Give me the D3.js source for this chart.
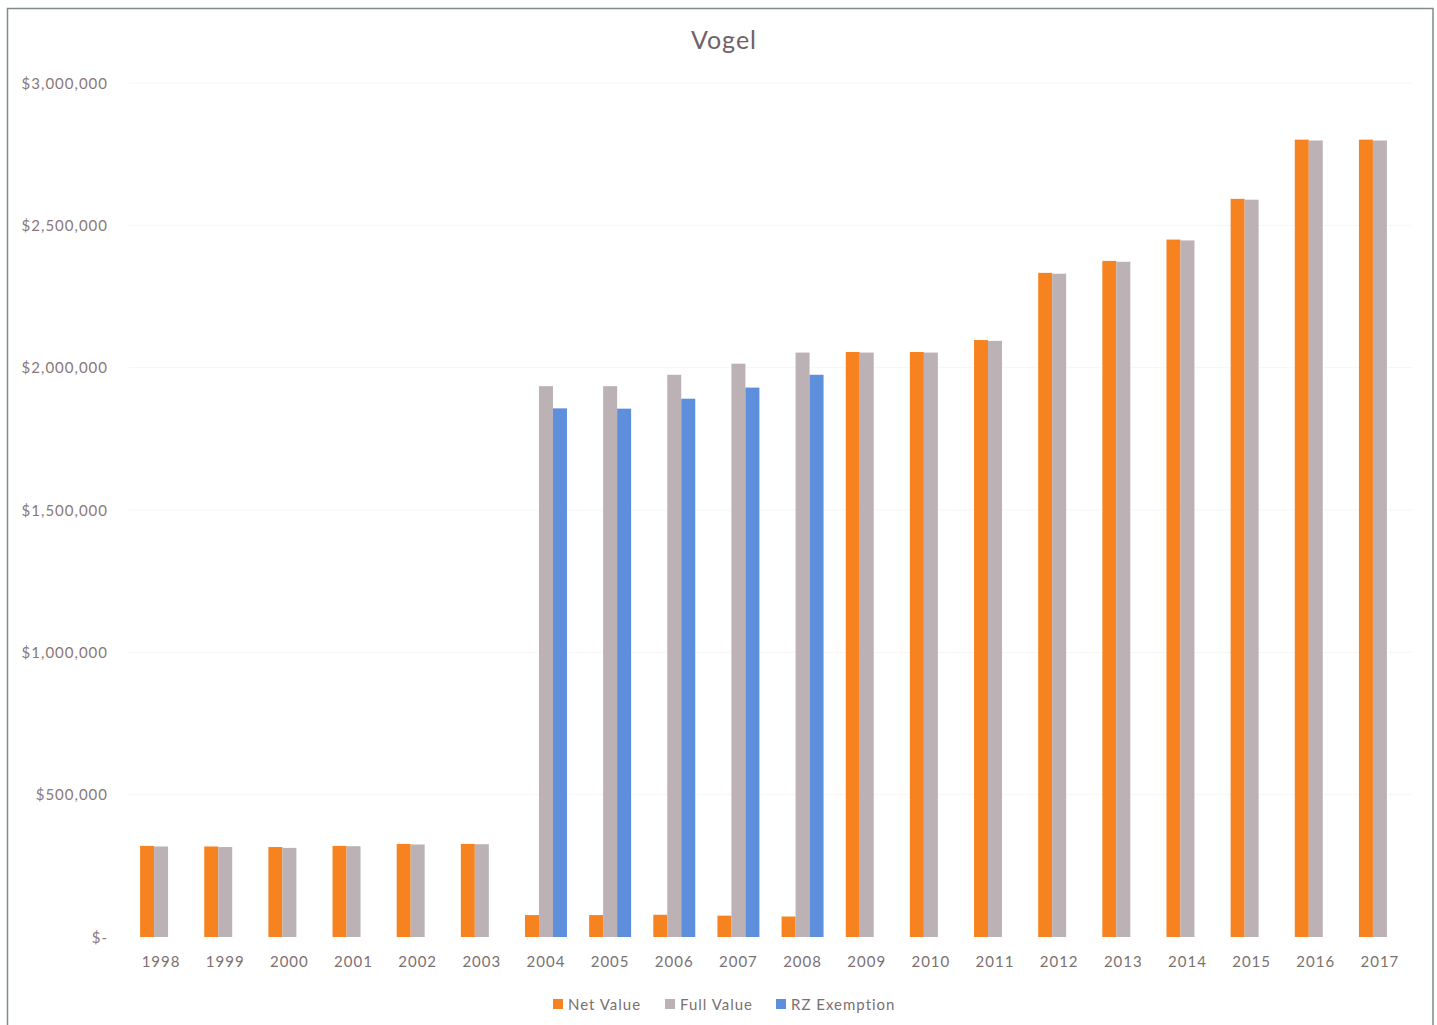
<!DOCTYPE html>
<html>
<head>
<meta charset="utf-8">
<script src="https://cdn.jsdelivr.net/npm/d3@7"></script>
<style>
  html, body { margin: 0; padding: 0; background: #fff; }
  svg { display: block; }
</style>
</head>
<body>
<svg id="chart" width="1437" height="1025"></svg>
<script>
// Assessed values by year
const years = ["1998","1999","2000","2001","2002","2003","2004","2005","2006","2007",
               "2008","2009","2010","2011","2012","2013","2014","2015","2016","2017"];
const netValue = [320000, 318000, 316000, 320000, 327000, 327000, 77000, 77000, 78000, 75000,
                  72000, 2055000, 2055000, 2097000, 2333000, 2375000, 2450000, 2593000, 2801000, 2801000];
const fullValue = [318000, 316000, 313000, 319000, 325000, 326000, 1935000, 1935000, 1975000, 2014000,
                   2053000, 2053000, 2053000, 2094000, 2330000, 2372000, 2447000, 2590000, 2798000, 2798000];
const rzExemption = [null, null, null, null, null, null, 1857000, 1856000, 1891000, 1930000,
                     1975000, null, null, null, null, null, null, null, null, null];
const seriesNames = ["Net Value", "Full Value", "RZ Exemption"];
const yTicks = [0, 500000, 1000000, 1500000, 2000000, 2500000, 3000000];

const colors = ["#f6831f", "#bcb1b4", "#5d8fdc"];
const series = [netValue, fullValue, rzExemption];

const svg = d3.select("#chart");
const font = "Lato, 'Open Sans', sans-serif";

// outer frame
svg.append("rect")
  .attr("x", 7.5).attr("y", 8.5)
  .attr("width", 1425.5).attr("height", 1030)
  .attr("fill", "#fff")
  .attr("stroke", "#7d8c8a").attr("stroke-width", 1.5);

const plot = { left: 129, right: 1412, top: 83, bottom: 937 };

const x = d3.scaleBand().domain(years).range([plot.left, plot.right]).paddingInner(0.346).paddingOuter(0.173);
const xs = d3.scaleBand().domain(seriesNames).range([0, x.bandwidth()]);
const y = d3.scaleLinear().domain([0, 3000000]).range([plot.bottom, plot.top]);

// faint gridlines
svg.append("g").selectAll("line")
  .data(yTicks.slice(1))
  .join("line")
  .attr("x1", plot.left).attr("x2", plot.right)
  .attr("y1", d => y(d)).attr("y2", d => y(d))
  .attr("stroke", "#f8f6f5").attr("stroke-width", 1);

// y axis labels
const fmt = d3.format(",");
const yAxis = d3.axisLeft(y).tickValues(yTicks).tickSize(0).tickPadding(0)
  .tickFormat(d => d === 0 ? "$-" : "$" + fmt(d));
const gy = svg.append("g").attr("transform", `translate(108,0)`).call(yAxis);
gy.select(".domain").remove();
gy.selectAll("text")
  .attr("font-family", font).attr("font-size", 15)
  .attr("letter-spacing", "1px")
  .attr("fill", "#8a7878").attr("dy", "0.35em");

// x axis labels
const xAxis = d3.axisBottom(x).tickSize(0).tickPadding(0);
const gx = svg.append("g").attr("transform", `translate(0,${plot.bottom + 19})`).call(xAxis);
gx.select(".domain").remove();
gx.selectAll("text")
  .attr("font-family", font).attr("font-size", 15)
  .attr("letter-spacing", "1px")
  .attr("fill", "#7c7070").attr("dy", "0.71em");

// bars
series.forEach((vals, si) => {
  svg.append("g")
    .attr("fill", colors[si])
    .selectAll("rect")
    .data(years.map((yr, i) => ({ yr, v: vals[i] })).filter(d => d.v != null))
    .join("rect")
    .attr("x", d => x(d.yr) + xs(seriesNames[si]))
    .attr("width", xs.bandwidth())
    .attr("y", d => y(d.v))
    .attr("height", d => y(0) - y(d.v));
});

// title
svg.append("text")
  .attr("x", 724).attr("y", 49)
  .attr("text-anchor", "middle")
  .attr("font-family", font).attr("font-size", 25)
  .attr("letter-spacing", "1px")
  .attr("fill", "#6e6266")
  .text("Vogel");

// legend
const legendItems = [
  { name: seriesNames[0], x: 553 },
  { name: seriesNames[1], x: 665 },
  { name: seriesNames[2], x: 776 }
];
const lg = svg.append("g");
legendItems.forEach((it, i) => {
  lg.append("rect").attr("x", it.x).attr("y", 999).attr("width", 10).attr("height", 10).attr("fill", colors[i]);
  lg.append("text").attr("x", it.x + 15).attr("y", 1010)
    .attr("font-family", font).attr("font-size", 15).attr("fill", "#7c7070")
    .attr("letter-spacing", "1px")
    .text(it.name);
});
</script>
</body>
</html>
